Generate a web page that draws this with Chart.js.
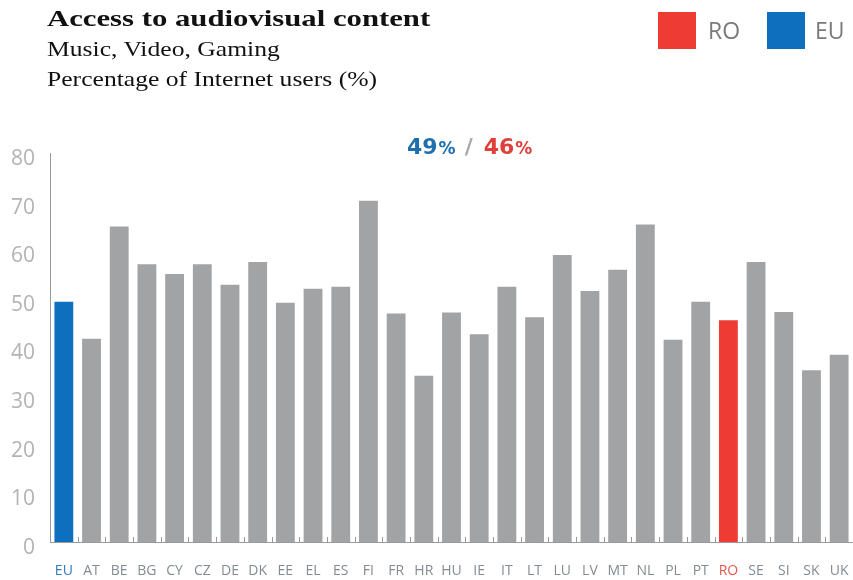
<!DOCTYPE html>
<html>
<head>
<meta charset="utf-8">
<script src="https://cdn.jsdelivr.net/npm/chart.js@4"></script>
<style>
  html, body { margin: 0; padding: 0; background: #fff; }
  #wrap { position: relative; width: 853px; height: 580px; overflow: hidden; }
  #chart { position: absolute; left: 0; top: 0; }
  .hd { position: absolute; left: 47px; font-family: "Liberation Serif", "Times New Roman", serif; color: #111; white-space: nowrap; transform-origin: 0 0; }
  .title { top: 6px; font-size: 24px; line-height: 24px; font-weight: bold; transform: scaleX(1.28); }
  .sub { font-size: 21px; line-height: 21px; transform: scaleX(1.22); }
  .sq { position: absolute; top: 12px; width: 38px; height: 37px; }
  .lg { position: absolute; top: 12px; height: 37px; line-height: 37px; font-family: "Open Sans", sans-serif; font-size: 23px; color: #7a7a7a; }
</style>
</head>
<body>
<div id="wrap">
  <canvas id="chart" width="853" height="580"></canvas>
  <div class="hd title">Access to audiovisual content</div>
  <div class="hd sub" style="top:39px">Music, Video, Gaming</div>
  <div class="hd sub" style="top:69px">Percentage of Internet users (%)</div>
  <div class="sq" style="left:658px;background:#ee3b33"></div>
  <div class="lg" style="left:708px">RO</div>
  <div class="sq" style="left:767px;background:#0f6fbf"></div>
  <div class="lg" style="left:815px">EU</div>
</div>
<script>
const countries = ["EU", "AT", "BE", "BG", "CY", "CZ", "DE", "DK", "EE", "EL", "ES", "FI", "FR", "HR", "HU",
  "IE", "IT", "LT", "LU", "LV", "MT", "NL", "PL", "PT", "RO", "SE", "SI", "SK", "UK"];
const shares = [49.4, 41.8, 64.9, 57.1, 55.1, 57.1, 52.9, 57.6, 49.2, 52.1, 52.5, 70.2, 47.0, 34.2, 47.2,
  42.7, 52.5, 46.2, 59.0, 51.6, 56.0, 65.3, 41.6, 49.4, 45.6, 57.6, 47.3, 35.3, 38.5];
const yTicks = [0, 10, 20, 30, 40, 50, 60, 70, 80];

const BLUE = "#0f6fbf";
const RED = "#ee3b33";
const GREY = "#a2a3a5";

const barColour = (c) => (c === "EU" ? BLUE : c === "RO" ? RED : GREY);
const labelColour = (c) => (c === "EU" ? "#2f7cbd" : c === "RO" ? "#e5574f" : "#838c93");

// small tick marks pointing up from the baseline, between the bars
const baseTicks = {
  id: "baseTicks",
  afterDatasetsDraw(chart) {
    const x = chart.scales.x;
    const bottom = chart.chartArea.bottom;
    const half = (x.getPixelForValue(1) - x.getPixelForValue(0)) / 2;
    const ctx = chart.ctx;
    ctx.save();
    ctx.strokeStyle = "#9a9a9a";
    ctx.lineWidth = 1;
    ctx.beginPath();
    for (let i = 0; i < countries.length; i++) {
      const px = Math.round(x.getPixelForValue(i) + half) + 0.5;
      ctx.moveTo(px, bottom);
      ctx.lineTo(px, bottom - 5);
    }
    ctx.stroke();
    ctx.restore();
  }
};

// "49% / 46%" headline above the bars
const headline = {
  id: "headline",
  afterDraw(chart) {
    const ctx = chart.ctx;
    const eu = Math.round(shares[countries.indexOf("EU")]);
    const ro = Math.round(shares[countries.indexOf("RO")]);
    const big = 'bold 22px "DejaVu Sans", sans-serif';
    const small = 'bold 17px "DejaVu Sans", sans-serif';
    const parts = [
      [String(eu), big, "#1d6fae", 0],
      ["%", small, "#1d6fae", 1],
      ["/", big, "#a9a9a9", 9],
      [String(ro), big, "#e0403a", 11],
      ["%", small, "#e0403a", 1]
    ];
    let x = 407;
    const y = 154;
    ctx.save();
    ctx.textBaseline = "alphabetic";
    ctx.textAlign = "left";
    parts.forEach(([t, f, col, gap]) => {
      x += gap;
      ctx.font = f;
      ctx.fillStyle = col;
      ctx.fillText(t, x, y);
      x += ctx.measureText(t).width;
    });
    ctx.restore();
  }
};

new Chart(document.getElementById("chart"), {
  type: "bar",
  data: {
    labels: countries,
    datasets: [{
      data: shares,
      backgroundColor: countries.map(barColour),
      borderWidth: 0,
      barPercentage: 0.68,
      categoryPercentage: 1
    }]
  },
  options: {
    responsive: false,
    animation: false,
    devicePixelRatio: 1,
    layout: { padding: { top: 153, left: 0, right: 0, bottom: 0 } },
    plugins: {
      legend: { display: false },
      tooltip: { enabled: false }
    },
    scales: {
      x: {
        afterFit: (scale) => { scale.height = 38; scale.paddingLeft = 0; scale.paddingRight = 0; },
        grid: { display: false, drawTicks: false },
        border: { display: true, color: "#9a9a9a", width: 1 },
        ticks: {
          autoSkip: false,
          maxRotation: 0,
          padding: 21,
          font: { family: "Open Sans", size: 14 },
          color: (ctx) => labelColour(countries[ctx.index])
        }
      },
      y: {
        min: 0,
        max: 80,
        afterBuildTicks: (scale) => { scale.ticks = yTicks.map((v) => ({ value: v })); },
        afterFit: (scale) => { scale.width = 50; scale.paddingTop = 0; scale.paddingBottom = 0; },
        grid: { display: false, drawTicks: false },
        border: { display: true, color: "#9a9a9a", width: 1 },
        ticks: {
          padding: 15,
          labelOffset: 6,
          font: { family: "Open Sans", size: 21 },
          color: "#b3b3b3"
        }
      }
    }
  },
  plugins: [baseTicks, headline]
});
</script>
</body>
</html>
